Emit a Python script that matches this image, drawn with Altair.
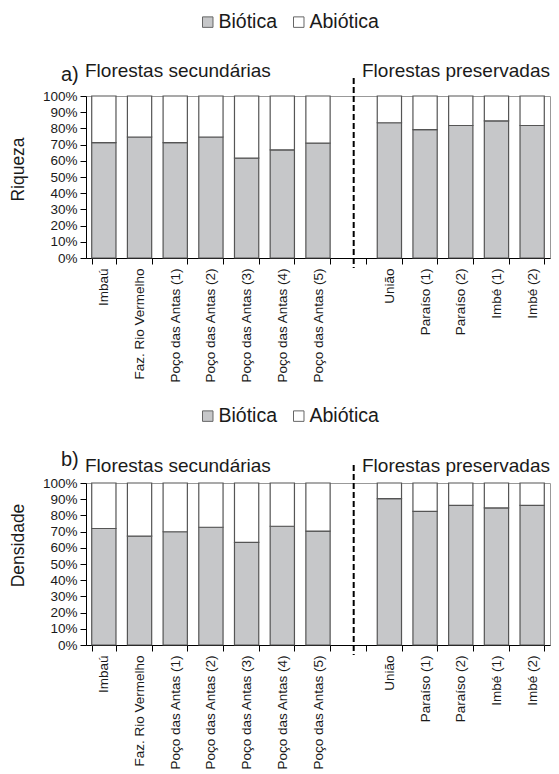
import altair as alt
import pandas as pd

# ---- data ----
sec_sites = ["Imbaú", "Faz. Rio Vermelho", "Poço das Antas (1)", "Poço das Antas (2)",
             "Poço das Antas (3)", "Poço das Antas (4)", "Poço das Antas (5)"]
pres_sites = ["União", "Paraíso (1)", "Paraíso (2)", "Imbé (1)", "Imbé (2)"]
gap = "gap"
order = sec_sites + [gap] + pres_sites
sites = sec_sites + pres_sites

riqueza_biotica = [71.2, 74.7, 71.2, 74.7, 61.6, 66.8, 70.9, 83.5, 79.3, 81.8, 84.7, 81.8]
densidade_biotica = [71.9, 67.2, 69.9, 72.7, 63.3, 73.3, 70.3, 90.4, 82.5, 86.2, 84.6, 86.2]

types = ["Biótica", "Abiótica"]
fills = ["#c6c7c9", "#ffffff"]
group_titles = ["Florestas secundárias", "Florestas preservadas"]

FONT = "Liberation Sans"
TXT = "#1a1a1a"
W, H = 464, 162


def build_df(values):
    rows = []
    for s, v in zip(sites, values):
        rows.append({"site": s, "tipo": types[0], "y0": 0, "y1": v})
        rows.append({"site": s, "tipo": types[1], "y0": v, "y1": 100})
    return pd.DataFrame(rows)


def panel(values, ytitle, letter, legend_y, title_y, letter_y, axis_title_y, rule_top, rule_bot):
    df = build_df(values)
    xenc = alt.X("site:N", sort=order,
                 scale=alt.Scale(domain=order, paddingInner=0.32, paddingOuter=0.16),
                 axis=alt.Axis(title=None, labelAngle=-90, tickBand="extent", tickSize=6,
                               labelPadding=4, labelFontSize=13.5, labelFont=FONT,
                               labelColor=TXT, domainColor="#000", tickColor="#000",
                               labelLimit=0,
                               labelExpr="datum.value == 'gap' ? '' : datum.label"))
    bars = alt.Chart(df).mark_bar(stroke="#555", strokeWidth=1.2).encode(
        x=xenc,
        y=alt.Y("y0:Q", scale=alt.Scale(domain=[0, 100]),
                axis=alt.Axis(values=list(range(0, 101, 10)), labelExpr="datum.value + '%'",
                              title=ytitle, titleFontSize=17.5, titleFontWeight="normal",
                              titleFont=FONT, titleColor=TXT, titlePadding=15, titleY=axis_title_y,
                              tickSize=6, labelPadding=3, labelFontSize=13.5, labelFont=FONT,
                              labelColor=TXT, domainColor="#000", tickColor="#000", grid=False)),
        y2="y1:Q",
        color=alt.Color("tipo:N", scale=alt.Scale(domain=types, range=fills),
                        legend=alt.Legend(title=None, orient="none", legendX=112, legendY=legend_y,
                                          direction="horizontal", symbolType="square",
                                          symbolSize=110, symbolStrokeColor="#666",
                                          symbolStrokeWidth=1, labelFontSize=19.5,
                                          labelFont=FONT, labelColor=TXT, labelOffset=1,
                                          columnPadding=11)),
    )
    rule = alt.Chart(pd.DataFrame({"site": [gap]})).mark_rule(
        color="#000", strokeWidth=2, strokeDash=[6, 3]).encode(
        x=alt.X("site:N", sort=order), y=alt.value(rule_top), y2=alt.value(rule_bot))
    t_sec = alt.Chart(pd.DataFrame({"t": [group_titles[0]]})).mark_text(
        align="left", baseline="alphabetic", fontSize=19, font=FONT, color=TXT).encode(
        text="t:N", x=alt.value(-1), y=alt.value(title_y))
    t_pres = alt.Chart(pd.DataFrame({"t": [group_titles[1]]})).mark_text(
        align="left", baseline="alphabetic", fontSize=19, font=FONT, color=TXT).encode(
        text="t:N", x=alt.value(276), y=alt.value(title_y))
    t_letter = alt.Chart(pd.DataFrame({"t": [letter]})).mark_text(
        align="left", baseline="alphabetic", fontSize=20, font=FONT, color=TXT).encode(
        text="t:N", x=alt.value(-25), y=alt.value(letter_y))
    return alt.layer(bars, rule, t_sec, t_pres, t_letter).properties(width=W, height=H)


pa = panel(riqueza_biotica, "Riqueza", "a)", -84, -19, -15, 73, -18, 172)
pb = panel(densidade_biotica, "Densidade", "b)", -77, -11, -17, 62, -18, 172)

chart = alt.vconcat(pa, pb, spacing=21).resolve_legend(color="independent").properties(
    padding={"left": 0, "top": 3, "right": 0, "bottom": 0}
).configure_view(stroke="#999")

chart.save("out.html", embed_options={"renderer": "svg", "actions": False})
